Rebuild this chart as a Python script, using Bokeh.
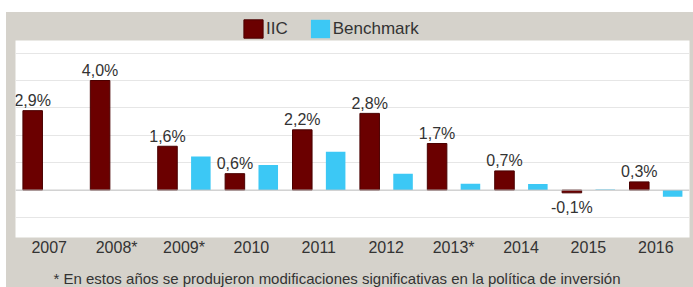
from bokeh.plotting import figure
from bokeh.models import (FactorRange, Range1d, Legend, LegendItem, Span, Label,
                          FixedTicker, ColumnDataSource, Spacer)
from bokeh.layouts import column, row
from bokeh.transform import dodge
from bokeh.core.properties import value
from bokeh.embed import file_html
from bokeh.resources import INLINE

# ---- data ----
years = ["2007", "2008*", "2009*", "2010", "2011", "2012", "2013*", "2014", "2015", "2016"]
iic = [2.9, 4.0, 1.6, 0.6, 2.2, 2.8, 1.7, 0.7, -0.1, 0.3]
benchmark = [None, None, 1.23, 0.92, 1.4, 0.6, 0.23, 0.22, 0.02, -0.24]
iic_labels = ["2,9%", "4,0%", "1,6%", "0,6%", "2,2%", "2,8%", "1,7%", "0,7%", "-0,1%", "0,3%"]
series_names = ["IIC", "Benchmark"]
grid_ticks = [-1, 0, 1, 2, 3, 4, 5]
footnote = "* En estos años se produjeron modificaciones significativas en la política de inversión"

# ---- styles ----
FONT = value("Liberation Sans")
IIC_COLOR = "#6b0000"
IIC_EDGE = "#4a0000"
BENCH_COLOR = "#3cc8f5"
GRAY = "#d5d2cb"
TEXT = "#333333"
W = 687

iic_src = ColumnDataSource(dict(year=years, v=iic))
b_years = [y for y, b in zip(years, benchmark) if b is not None]
b_vals = [b for b in benchmark if b is not None]
bench_src = ColumnDataSource(dict(year=b_years, v=b_vals))

pos = [(y, v, t) for y, v, t in zip(years, iic, iic_labels) if v >= 0]
neg = [(y, v, t) for y, v, t in zip(years, iic, iic_labels) if v < 0]
pos_src = ColumnDataSource(dict(year=[a[0] for a in pos], v=[a[1] for a in pos], t=[a[2] for a in pos]))
neg_src = ColumnDataSource(dict(year=[a[0] for a in neg], v=[a[1] for a in neg], t=[a[2] for a in neg]))


def band(height):
    f = figure(width=W, height=height, x_range=Range1d(0, 1), y_range=Range1d(0, 1),
               x_axis_location=None, y_axis_location=None, output_backend="svg",
               toolbar_location=None, min_border=0, background_fill_color=GRAY,
               border_fill_color=GRAY, outline_line_color=None)
    f.grid.visible = False
    return f


# ---- top band with legend ----
top = band(28)
nan = float("nan")
lg_iic = top.vbar(x=[nan], top=[nan], width=0.1, fill_color=IIC_COLOR, line_color=IIC_EDGE)
lg_b = top.vbar(x=[nan], top=[nan], width=0.1, fill_color=BENCH_COLOR, line_color=None)
legend = Legend(items=[LegendItem(label=series_names[0], renderers=[lg_iic]),
                       LegendItem(label=series_names[1], renderers=[lg_b])],
                location=(226, 0), orientation="horizontal",
                glyph_width=24, glyph_height=23, label_standoff=1, spacing=20,
                padding=0, margin=0, background_fill_alpha=0, border_line_color=None,
                label_text_font="Liberation Sans", label_text_font_size="17px",
                label_text_color=TEXT, label_height=23, label_width=0)
top.add_layout(legend)

# ---- main chart ----
p = figure(width=W, height=225, x_range=FactorRange(*years, range_padding=0),
           y_range=Range1d(-1.73, 5.46), output_backend="svg", toolbar_location=None,
           min_border_left=9, min_border_right=4, min_border_top=0, min_border_bottom=28,
           background_fill_color="white", border_fill_color=GRAY, outline_line_color=None)

p.ygrid.ticker = FixedTicker(ticks=grid_ticks)
p.ygrid.grid_line_color = "#e6e6e6"
p.xgrid.grid_line_color = None
p.yaxis.visible = False

p.xaxis.axis_line_color = None
p.xaxis.major_tick_line_color = None
p.xaxis.minor_tick_line_color = None
p.xaxis.major_tick_out = 0
p.xaxis.major_tick_in = 0
p.xaxis.major_label_text_font = "Liberation Sans"
p.xaxis.major_label_text_font_size = "16px"
p.xaxis.major_label_text_color = TEXT
p.xaxis.major_label_standoff = 1

p.add_layout(Span(location=0, dimension="width", line_color="#c4c4c4", line_width=1))

p.vbar(x=dodge("year", -0.245, range=p.x_range), top="v", bottom=0, width=0.29,
       source=iic_src, fill_color=IIC_COLOR, line_color=IIC_EDGE, line_width=1)
p.vbar(x=dodge("year", 0.25, range=p.x_range), top="v", bottom=0, width=0.29,
       source=bench_src, fill_color=BENCH_COLOR, line_color=None)

p.text(x=dodge("year", -0.245, range=p.x_range), y="v", text="t", source=pos_src,
       text_font=FONT, text_font_size=value("16px"), text_color=TEXT,
       text_align="center", text_baseline="alphabetic", y_offset=-10)
p.text(x=dodge("year", -0.245, range=p.x_range), y="v", text="t", source=neg_src,
       text_font=FONT, text_font_size=value("16px"), text_color=TEXT,
       text_align="center", text_baseline="alphabetic", y_offset=15)

# ---- footnote band ----
foot = band(22)
foot.add_layout(Label(x=38, y=9, x_units="screen", y_units="screen", text=footnote,
                      text_font="Liberation Sans", text_font_size="15px",
                      text_color=TEXT, text_align="left", text_baseline="alphabetic"))

chart = column(top, p, foot, styles={"background-color": GRAY})
layout = row(Spacer(width=6, height=287), column(Spacer(width=W, height=12), chart))
open("out.html", "w").write(file_html(layout, INLINE))
